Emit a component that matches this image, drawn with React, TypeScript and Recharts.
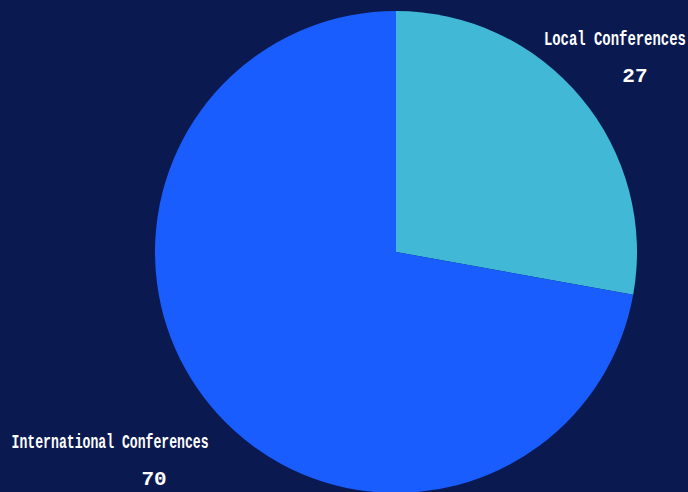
import { PieChart, Pie, Cell } from "recharts";

const categories = ["Local Conferences", "International Conferences"];
const counts = [27, 70];
const colors = ["#41b8d6", "#1a5dff"];

// label placement relative to the slice's outer edge at mid angle
const nameOffsets = [
  { dx: 34, dy: -52, w: 142 },
  { dx: -101, dy: 41, w: 197 },
];
const valueOffsets = [
  { dx: 54, dy: -15 },
  { dx: -57, dy: 78 },
];

const data = categories.map((name, i) => ({ name, value: counts[i] }));

const RADIAN = Math.PI / 180;

function renderLabel(props: any) {
  const { cx, cy, midAngle, outerRadius, index, name, value } = props;
  const x = cx + outerRadius * Math.cos(-midAngle * RADIAN);
  const y = cy + outerRadius * Math.sin(-midAngle * RADIAN);
  const n = nameOffsets[index];
  const v = valueOffsets[index];
  return (
    <g>
      <text
        x={x + n.dx}
        y={y + n.dy}
        textAnchor="middle"
        fill="#ffffff"
        fontFamily="'Liberation Mono', monospace"
        fontWeight="bold"
        fontSize={21}
        textLength={n.w}
        lengthAdjust="spacingAndGlyphs"
      >
        {name}
      </text>
      <text
        x={x + v.dx}
        y={y + v.dy}
        textAnchor="middle"
        fill="#ffffff"
        fontFamily="'Liberation Mono', monospace"
        fontWeight="bold"
        fontSize={21}
      >
        {value}
      </text>
    </g>
  );
}

export default function App() {
  return (
    <div
      style={{
        position: "fixed",
        left: 0,
        top: 0,
        width: 688,
        height: 492,
        background: "#0a1a50",
        overflow: "hidden",
      }}
    >
      <PieChart
        width={688}
        height={492}
        margin={{ top: 0, right: 0, bottom: 0, left: 0 }}
      >
        <Pie
          data={data}
          dataKey="value"
          nameKey="name"
          cx={396}
          cy={252}
          outerRadius={241}
          startAngle={90}
          endAngle={-270}
          stroke="none"
          labelLine={false}
          label={renderLabel}
          isAnimationActive={false}
        >
          {data.map((d, i) => (
            <Cell key={d.name} fill={colors[i]} />
          ))}
        </Pie>
      </PieChart>
    </div>
  );
}
